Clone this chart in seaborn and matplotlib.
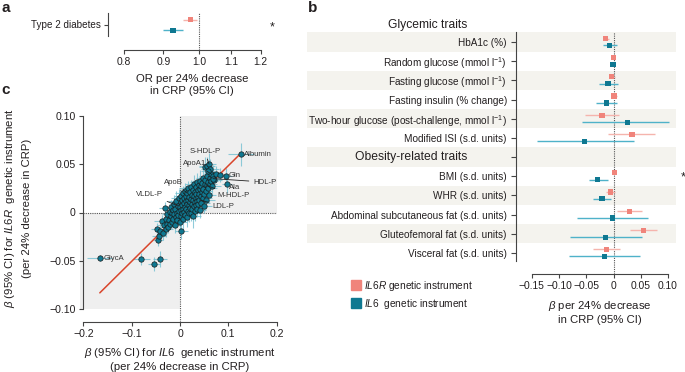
import numpy as np
import pandas as pd
import matplotlib
matplotlib.use("Agg")
import matplotlib.pyplot as plt
import matplotlib.transforms as mtransforms
from matplotlib.patches import Rectangle
from matplotlib.lines import Line2D
from matplotlib.ticker import NullLocator, NullFormatter
import seaborn as sns

# ---------------- data ----------------
# panel a: type 2 diabetes odds ratios
t2d_instruments = ["IL6R", "IL6"]
t2d_or = [0.975, 0.926]
t2d_lo = [0.955, 0.900]
t2d_hi = [0.994, 0.954]

# panel b: glycemic and obesity-related traits
trait_labels = [
    "HbA1c (%)",
    r"Random glucose (mmol l$^{-1}$)",
    r"Fasting glucose (mmol l$^{-1}$)",
    "Fasting insulin (% change)",
    r"Two-hour glucose (post-challenge, mmol l$^{-1}$)",
    "Modified ISI (s.d. units)",
    "BMI (s.d. units)",
    "WHR (s.d. units)",
    "Abdominal subcutaneous fat (s.d. units)",
    "Gluteofemoral fat (s.d. units)",
    "Visceral fat (s.d. units)",
]
il6r_beta = [-0.014, 0.000, -0.003, 0.001, -0.021, 0.034, 0.002, -0.005, 0.029, 0.055, -0.013]
il6r_lo = [-0.019, -0.003, -0.008, -0.004, -0.053, -0.010, -0.001, -0.013, 0.006, 0.030, -0.037]
il6r_hi = [-0.009, 0.003, 0.002, 0.006, 0.010, 0.077, 0.005, 0.003, 0.053, 0.079, 0.012]
il6_beta = [-0.007, -0.001, -0.010, -0.013, 0.025, -0.053, -0.029, -0.021, -0.002, -0.014, -0.017]
il6_lo = [-0.019, -0.004, -0.027, -0.032, -0.057, -0.141, -0.045, -0.038, -0.067, -0.079, -0.082]
il6_hi = [0.006, 0.002, 0.008, 0.007, 0.101, 0.037, -0.010, -0.004, 0.064, 0.052, 0.048]
trait_rows = [0, 1, 2, 3, 4, 5, 7, 8, 9, 10, 11]

# panel c: metabolite betas (IL6 on x, IL6R on y)
metab_x = [
    -0.048, -0.045, -0.043, -0.041, -0.038, -0.036, -0.034, -0.032, -0.030, -0.029,
    -0.027, -0.026, -0.024, -0.023, -0.021, -0.020, -0.019, -0.018, -0.017, -0.016,
    -0.015, -0.014, -0.013, -0.012, -0.011, -0.010, -0.009, -0.008, -0.007, -0.006,
    -0.005, -0.004, -0.003, -0.002, -0.001, 0.000, 0.001, 0.001, 0.002, 0.003,
    0.003, 0.004, 0.005, 0.005, 0.006, 0.007, 0.007, 0.008, 0.009, 0.009,
    0.010, 0.011, 0.011, 0.012, 0.013, 0.013, 0.014, 0.015, 0.015, 0.016,
    0.017, 0.017, 0.018, 0.019, 0.019, 0.020, 0.021, 0.021, 0.022, 0.023,
    0.023, 0.024, 0.025, 0.025, 0.026, 0.027, 0.027, 0.028, 0.029, 0.029,
    0.030, 0.031, 0.031, 0.032, 0.033, 0.033, 0.034, 0.035, 0.035, 0.036,
    0.037, 0.037, 0.038, 0.039, 0.039, 0.040, 0.041, 0.041, 0.042, 0.043,
    0.044, 0.044, 0.045, 0.046, 0.047, 0.048, 0.048, 0.049, 0.050, 0.051,
    0.052, 0.053, 0.054, 0.055, 0.056, 0.057, 0.058, 0.059, 0.061, 0.062,
    0.064, 0.065, 0.067, 0.069, 0.071, 0.068, 0.052, 0.056, 0.060, 0.062,
    0.058, 0.075, 0.083, 0.095, 0.097, 0.126, -0.166, -0.080, -0.054, -0.041,
]
metab_y = [
    -0.017, -0.028, -0.024, -0.019, -0.009, -0.021, -0.013, 0.005, -0.017, -0.007,
    -0.012, -0.002, -0.015, -0.008, 0.001, -0.012, -0.004, 0.006, -0.010, -0.001,
    0.003, -0.007, 0.009, -0.002, -0.013, 0.004, -0.005, 0.012, 0.000, -0.008,
    0.007, -0.003, 0.015, 0.002, -0.010, 0.006, 0.011, -0.004, 0.003, -0.019,
    0.017, 0.008, -0.001, 0.013, 0.004, 0.020, -0.007, 0.010, 0.001, 0.015,
    0.006, 0.022, -0.003, 0.012, 0.004, 0.017, 0.009, -0.005, 0.020, 0.013,
    0.002, 0.025, 0.008, 0.016, -0.001, 0.011, 0.021, 0.005, 0.014, 0.000,
    0.026, 0.009, 0.018, 0.004, 0.013, 0.023, -0.004, 0.007, 0.017, 0.029,
    0.011, 0.002, 0.021, 0.015, 0.026, 0.008, 0.019, 0.012, 0.031, 0.004,
    0.023, 0.016, 0.009, 0.028, 0.019, 0.013, 0.024, 0.003, 0.033, 0.017,
    0.027, 0.010, 0.021, 0.030, 0.015, 0.036, 0.024, 0.007, 0.019, 0.029,
    0.034, 0.022, 0.013, 0.028, 0.038, 0.025, 0.032, 0.018, 0.036, 0.029,
    0.040, 0.033, 0.027, 0.038, 0.034, 0.035, 0.047, 0.048, 0.050, 0.045,
    0.043, 0.040, 0.039, 0.038, 0.029, 0.060, -0.047, -0.048, -0.053, -0.048,
]
metab_xerr = [
    0.012, 0.010, 0.014, 0.011, 0.016, 0.009, 0.013, 0.012, 0.015, 0.010,
    0.014, 0.011, 0.017, 0.012, 0.010, 0.015, 0.013, 0.018, 0.011, 0.014,
    0.016, 0.012, 0.010, 0.019, 0.013, 0.015, 0.011, 0.017, 0.014, 0.012,
    0.018, 0.013, 0.015, 0.011, 0.016, 0.014, 0.020, 0.012, 0.017, 0.013,
    0.015, 0.019, 0.012, 0.016, 0.014, 0.018, 0.011, 0.021, 0.013, 0.016,
    0.017, 0.014, 0.019, 0.012, 0.016, 0.020, 0.013, 0.015, 0.018, 0.014,
    0.016, 0.019, 0.013, 0.017, 0.021, 0.014, 0.018, 0.012, 0.016, 0.020,
    0.015, 0.018, 0.013, 0.017, 0.019, 0.014, 0.016, 0.020, 0.012, 0.018,
    0.017, 0.014, 0.019, 0.015, 0.013, 0.018, 0.016, 0.021, 0.014, 0.017,
    0.013, 0.019, 0.016, 0.015, 0.018, 0.014, 0.020, 0.013, 0.017, 0.016,
    0.015, 0.019, 0.014, 0.017, 0.020, 0.016, 0.013, 0.018, 0.015, 0.019,
    0.016, 0.014, 0.018, 0.015, 0.017, 0.020, 0.013, 0.016, 0.019, 0.015,
    0.017, 0.014, 0.018, 0.016, 0.015, 0.019, 0.013, 0.016, 0.014, 0.018,
    0.015, 0.014, 0.013, 0.012, 0.011, 0.027, 0.026, 0.018, 0.012, 0.014,
]
metab_yerr = [
    0.006, 0.007, 0.005, 0.008, 0.006, 0.007, 0.005, 0.006, 0.008, 0.007,
    0.005, 0.007, 0.006, 0.008, 0.006, 0.005, 0.009, 0.007, 0.006, 0.008,
    0.007, 0.006, 0.009, 0.005, 0.008, 0.007, 0.006, 0.010, 0.007, 0.006,
    0.008, 0.007, 0.009, 0.006, 0.008, 0.010, 0.007, 0.006, 0.009, 0.008,
    0.007, 0.010, 0.008, 0.006, 0.009, 0.007, 0.011, 0.008, 0.007, 0.009,
    0.010, 0.008, 0.007, 0.011, 0.009, 0.006, 0.008, 0.010, 0.007, 0.009,
    0.011, 0.008, 0.010, 0.007, 0.009, 0.012, 0.008, 0.010, 0.007, 0.009,
    0.008, 0.011, 0.009, 0.007, 0.010, 0.008, 0.012, 0.009, 0.007, 0.010,
    0.009, 0.011, 0.008, 0.010, 0.007, 0.009, 0.012, 0.008, 0.010, 0.009,
    0.011, 0.008, 0.010, 0.009, 0.012, 0.007, 0.010, 0.009, 0.011, 0.008,
    0.010, 0.009, 0.011, 0.008, 0.010, 0.012, 0.009, 0.008, 0.011, 0.010,
    0.009, 0.011, 0.008, 0.010, 0.012, 0.009, 0.010, 0.008, 0.011, 0.009,
    0.010, 0.009, 0.008, 0.011, 0.009, 0.010, 0.010, 0.009, 0.011, 0.010,
    0.009, 0.008, 0.007, 0.008, 0.009, 0.012, 0.003, 0.006, 0.007, 0.008,
]
fit_slope = 0.494
fit_intercept = -0.001

# named metabolites and where their labels sit
named = ["Albumin", "GlycA", "Gln", "Ala", "S-HDL-P", "ApoA1", "HDL-P",
         "ApoB", "VLDL-P", "M-HDL-P", "LDL-P"]
named_x = [0.126, -0.166, 0.095, 0.097, 0.060, 0.064, 0.068, 0.015, -0.005, 0.055, 0.040]
named_y = [0.060, -0.047, 0.038, 0.029, 0.050, 0.040, 0.035, 0.020, 0.007, 0.028, 0.013]
label_x = [0.133, -0.159, 0.100, 0.1005, 0.051, 0.031, 0.152, -0.0145, -0.0635, 0.111, 0.090]
label_y = [0.0604, -0.0473, 0.0385, 0.0262, 0.0635, 0.0503, 0.0314, 0.0314, 0.019, 0.0172, 0.0065]
label_ha = ["left", "left", "left", "left", "center", "center", "left",
            "center", "center", "center", "center"]
label_line = [False, False, False, False, True, True, True, True, True, True, True]

# ---------------- style ----------------
sns.set_theme(style="white")
plt.rcParams["font.family"] = ["Liberation Sans", "DejaVu Sans"]
plt.rcParams["mathtext.fontset"] = "custom"
plt.rcParams["mathtext.rm"] = "Liberation Sans"
plt.rcParams["mathtext.it"] = "Liberation Sans:italic"
plt.rcParams["mathtext.bf"] = "Liberation Sans:bold"
plt.rcParams["text.color"] = "#231f20"
plt.rcParams["xtick.color"] = "#444444"
plt.rcParams["ytick.color"] = "#444444"
plt.rcParams["xtick.labelcolor"] = "#231f20"
plt.rcParams["ytick.labelcolor"] = "#231f20"

C_IL6R = "#f0847b"
C_IL6R_CI = "#f5b4ad"
C_IL6 = "#0f7891"
C_IL6_CI = "#4fb2c9"
C_BAND = "#f4f3ee"
C_SPINE = "#444444"

W, H = 685, 372
PT = 100 / 72.0  # pixels per point
fig = plt.figure(figsize=(W / 100, H / 100), dpi=100)


def px_axes(l, t, r, b):
    return fig.add_axes([l / W, 1 - b / H, (r - l) / W, (b - t) / H])


def fx(px):
    return px / W


def fy(py):
    return 1 - py / H


def style_spines(ax):
    for s in ["top", "right"]:
        ax.spines[s].set_visible(False)
    for s in ["left", "bottom"]:
        ax.spines[s].set_color(C_SPINE)
        ax.spines[s].set_linewidth(0.8)
    ax.patch.set_alpha(0)


# ---------------- panel a ----------------
axa = px_axes(108, 13, 260.5, 36)
axa.set_xscale("log")
axa.set_xlim(0.764, 1.2)
axa.set_ylim(0, 1)
style_spines(axa)
axa.spines["bottom"].set_position(("outward", 14 / PT))
axa.spines["bottom"].set_bounds(0.8, 1.2)

t2d_df = pd.DataFrame({"inst": t2d_instruments, "or": t2d_or, "lo": t2d_lo,
                       "hi": t2d_hi, "y": [0.70, 0.25]})
t2d_ci = [C_IL6R_CI, C_IL6_CI]
for i, row in t2d_df.iterrows():
    axa.hlines(row["y"], row["lo"], row["hi"], color=t2d_ci[i], lw=1.0, zorder=2)
sns.scatterplot(data=t2d_df, x="or", y="y", hue="inst", palette={"IL6R": C_IL6R, "IL6": C_IL6},
                marker="s", s=14, edgecolor="none", legend=False, ax=axa, zorder=3)
axa.axvline(1.0, ymin=-14 / 23, ymax=1.0, color="#555555", lw=0.8, ls=(0, (1, 1)),
            clip_on=False, zorder=1)
axa.set_xticks([0.8, 0.9, 1.0, 1.1, 1.2])
axa.set_xticklabels(["0.8", "0.9", "1.0", "1.1", "1.2"])
axa.xaxis.set_minor_locator(NullLocator())
axa.xaxis.set_minor_formatter(NullFormatter())
axa.set_yticks([0.5])
axa.set_yticklabels(["Type 2 diabetes"])
axa.tick_params(axis="x", bottom=True, length=3.2, width=0.8, labelsize=7.4, pad=2)
axa.tick_params(axis="y", left=True, length=3, width=0.8, labelsize=7.1, pad=2)
axa.set_xlabel("")
axa.set_ylabel("")
fig.text(fx(192), fy(85), "OR per 24% decrease\nin CRP (95% CI)", ha="center", va="center",
         fontsize=8.2, linespacing=1.2)
fig.text(fx(272), fy(27), "*", ha="center", va="center", fontsize=9)

# ---------------- panel b ----------------
axb = px_axes(516, 32, 676, 261)
axb.set_xlim(-0.179, 0.1147)
axb.set_ylim(11.42, -0.52)
style_spines(axb)
axb.spines["bottom"].set_position(("outward", 13 / PT))
axb.spines["bottom"].set_bounds(-0.15, 0.10)

blend_b = mtransforms.blended_transform_factory(axb.transAxes, axb.transData)
for r in [0, 2, 4, 6, 8, 10]:
    axb.add_patch(Rectangle((-1.306, r - 0.5), 2.306, 1.0, transform=blend_b,
                            facecolor=C_BAND, edgecolor="none", zorder=0, clip_on=False))

rows_arr = np.array(trait_rows, dtype=float)
b_df = pd.concat([
    pd.DataFrame({"inst": "IL6R", "beta": il6r_beta, "lo": il6r_lo, "hi": il6r_hi,
                  "y": rows_arr - 0.18}),
    pd.DataFrame({"inst": "IL6", "beta": il6_beta, "lo": il6_lo, "hi": il6_hi,
                  "y": rows_arr + 0.18}),
], ignore_index=True)
for _, row in b_df.iterrows():
    col = C_IL6R_CI if row["inst"] == "IL6R" else C_IL6_CI
    axb.hlines(row["y"], row["lo"], row["hi"], color=col, lw=1.0, zorder=2)
sns.scatterplot(data=b_df, x="beta", y="y", hue="inst", palette={"IL6R": C_IL6R, "IL6": C_IL6},
                marker="s", s=14, edgecolor="none", legend=False, ax=axb, zorder=3)
axb.axvline(0, ymin=-13 / 229, ymax=1.0, color="#555555", lw=0.8, ls=(0, (1, 1)),
            clip_on=False, zorder=1)

axb.set_yticks(list(range(12)))
axb.set_yticklabels(trait_labels[:6] + [""] + trait_labels[6:])
axb.set_xticks([-0.15, -0.10, -0.05, 0, 0.05, 0.10])
axb.set_xticklabels(["\u22120.15", "\u22120.10", "\u22120.05", "0", "0.05", "0.10"])
axb.tick_params(axis="x", bottom=True, length=3.2, width=0.8, labelsize=7.4, pad=2)
axb.tick_params(axis="y", left=True, length=3.4, width=0.8, labelsize=7.2, pad=3.2)
axb.set_xlabel("")
axb.set_ylabel("")
axb.text(-0.306, -0.88, "Glycemic traits", transform=blend_b, ha="right", va="center",
         fontsize=8.7)
axb.text(-0.306, 6, "Obesity-related traits", transform=blend_b, ha="right", va="center",
         fontsize=8.7)
fig.text(fx(600), fy(312), r"$\beta$ per 24% decrease" + "\nin CRP (95% CI)", ha="center",
         va="center", fontsize=8.2, linespacing=1.2)
fig.text(fx(683), fy(177), "*", ha="center", va="center", fontsize=9)

leg_handles = [Line2D([], [], marker="s", ls="", color=C_IL6R, markersize=7.2),
               Line2D([], [], marker="s", ls="", color=C_IL6, markersize=7.2)]
fig.legend(leg_handles, [r"$\it{IL6R}$ genetic instrument", r"$\it{IL6}$  genetic instrument"],
           loc="upper left", bbox_to_anchor=(fx(351), fy(279)), frameon=False, fontsize=7.3,
           handlelength=1.0, handletextpad=0.3, labelspacing=0.35, borderpad=0,
           borderaxespad=0)

# ---------------- panel c ----------------
axc = px_axes(80, 115.7, 276.7, 309.3)
axc.set_xlim(-0.207, 0.2)
axc.set_ylim(-0.1, 0.1)
style_spines(axc)
axc.spines["left"].set_position(("data", -0.2))
axc.spines["left"].set_bounds(-0.1, 0.1)
axc.spines["bottom"].set_position(("outward", 13 / PT))
axc.spines["bottom"].set_bounds(-0.2, 0.2)

axc.add_patch(Rectangle((0, 0), 0.2, 0.1, facecolor="#efefef", edgecolor="none", zorder=0))
axc.add_patch(Rectangle((-0.207, -0.1), 0.207, 0.1, facecolor="#efefef", edgecolor="none",
                        zorder=0))
axc.axvline(0, ymin=-13 / 193.6, ymax=1.0, color="#555555", lw=0.8, ls=(0, (1, 1)),
            clip_on=False, zorder=1)
axc.axhline(0, xmin=0.007 / 0.407, xmax=1.0, color="#555555", lw=0.8, ls=(0, (1, 1)), zorder=1)

axc.errorbar(metab_x, metab_y, xerr=metab_xerr, yerr=metab_yerr, fmt="none",
             ecolor="#74c0d1", elinewidth=0.8, alpha=0.8, zorder=2)
fit_xs = np.array([min(metab_x), max(metab_x)])
axc.plot(fit_xs, fit_slope * fit_xs + fit_intercept, color="#d9452b", lw=1.1, zorder=3)
sns.scatterplot(x=metab_x, y=metab_y, s=15, color=C_IL6, edgecolor="#1a1a1a", linewidth=0.5,
                ax=axc, zorder=4)

for i, name in enumerate(named):
    if label_line[i]:
        axc.annotate(name, xy=(named_x[i], named_y[i]), xytext=(label_x[i], label_y[i]),
                     ha=label_ha[i], va="center", fontsize=5.6, color="#333333", zorder=5,
                     arrowprops=dict(arrowstyle="-", color="#222222", lw=0.6,
                                     shrinkA=1, shrinkB=0))
    else:
        axc.text(label_x[i], label_y[i], name, ha=label_ha[i], va="center", fontsize=5.6,
                 color="#333333", zorder=5)

axc.set_xticks([-0.2, -0.1, 0, 0.1, 0.2])
axc.set_xticklabels(["\u22120.2", "\u22120.1", "0", "0.1", "0.2"])
axc.set_yticks([-0.1, -0.05, 0, 0.05, 0.1])
axc.set_yticklabels(["\u22120.10", "\u22120.05", "0", "0.05", "0.10"])
axc.tick_params(axis="x", bottom=True, length=3.1, width=0.8, labelsize=7.6, pad=1.8)
axc.tick_params(axis="y", left=True, length=3.1, width=0.8, labelsize=7.6, pad=2.5)
axc.set_xlabel("")
axc.set_ylabel("")
fig.text(fx(10), fy(208), r"$\beta$ (95% CI) for $\it{IL6R}$  genetic instrument",
         rotation=90, ha="center", va="center", fontsize=8.2)
fig.text(fx(27), fy(208), "(per 24% decrease in CRP)", rotation=90, ha="center",
         va="center", fontsize=8.2)
fig.text(fx(180), fy(359), r"$\beta$ (95% CI) for $\it{IL6}$  genetic instrument" +
         "\n(per 24% decrease in CRP)", ha="center", va="center", fontsize=8.2, linespacing=1.2)

# panel letters
fig.text(fx(1), fy(8), "a", fontsize=11, fontweight="bold", va="center", ha="left")
fig.text(fx(308), fy(8), "b", fontsize=11, fontweight="bold", va="center", ha="left")
fig.text(fx(1), fy(90), "c", fontsize=11, fontweight="bold", va="center", ha="left")

fig.savefig("out.png", dpi=100)
